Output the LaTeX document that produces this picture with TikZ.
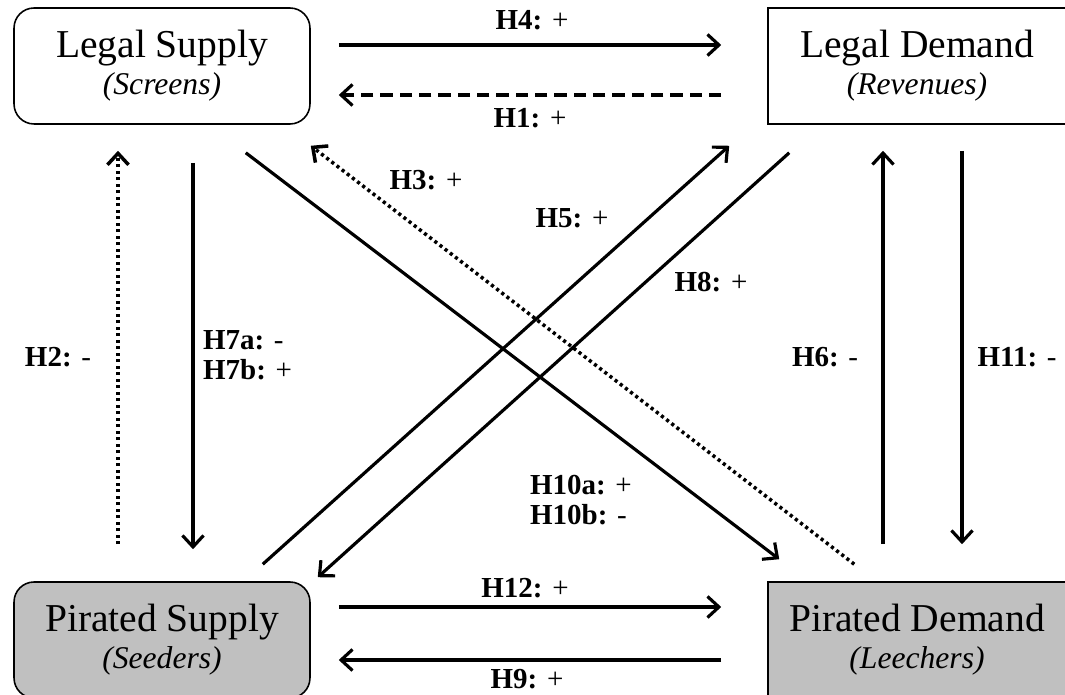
\documentclass[tikz,border=0pt]{standalone}
\usepackage{fontspec}
\setmainfont{Liberation Serif}
\usetikzlibrary{arrows.meta, calc, positioning}
\definecolor{pGrey}{HTML}{C0C0C0}
\newcommand{\subtxt}[1]{{\fontsize{18}{21}\selectfont\itshape(#1)}}

\begin{document}
\begin{tikzpicture}[x=0.02cm, y=-0.02cm,
  boxnode/.style={draw=black, line width=0.9pt, fill=#1, minimum width=5.96cm, minimum height=2.32cm,
                  align=center, inner sep=0pt, font=\fontsize{22.5}{21}\selectfont},
  boxnode/.default=white,
  rbox/.style={boxnode=#1, minimum width=5.92cm, rounded corners=0.4cm},
  rbox/.default=white,
  arr/.style={-{Straight Barb[length=6.5pt, width=12pt]}, line width=1.8pt},
  dots/.style={line width=2pt, dash pattern=on 1.8pt off 1.9pt},
  hlab/.style={font=\fontsize{16.5}{17}\selectfont, align=left, inner sep=1pt}]
  \useasboundingbox (0,0) rectangle (1065,695);
  \clip (0,0) rectangle (1065,695);
  \node[rbox] (lsup) at (162,66) {Legal Supply\\\subtxt{Screens}};
  \node[boxnode] (ldem) at (917,66) {Legal Demand\\\subtxt{Revenues}};
  \node[rbox=pGrey] (psup) at (162,640) {Pirated Supply\\\subtxt{Seeders}};
  \node[boxnode=pGrey] (pdem) at (917,640) {Pirated Demand\\\subtxt{Leechers}};
  % horizontal
  \draw[arr] ($(lsup.east)+(28,-21)$) -- ($(ldem.west)+(-46,-21)$);
  \draw[arr, dash pattern=on 7pt off 4pt] ($(ldem.west)+(-46,29)$) -- ($(lsup.east)+(28,29)$);
  \draw[arr] ($(psup.east)+(28,-33)$) -- ($(pdem.west)+(-46,-33)$);
  \draw[arr] ($(pdem.west)+(-46,20)$) -- ($(psup.east)+(28,20)$);
  % vertical
  \draw[arr, dots] ($(psup.north)+(-44,-37)$) -- ($(lsup.south)+(-44,26)$);
  \draw[arr] ($(lsup.south)+(31,38)$) -- ($(psup.north)+(31,-32)$);
  \draw[arr] ($(pdem.north)+(-34,-37)$) -- ($(ldem.south)+(-34,26)$);
  \draw[arr] ($(ldem.south)+(45,26)$) -- ($(pdem.north)+(45,-37)$);
  % diagonal
  \draw[arr] ($(lsup.south east)+(-65,28)$) -- ($(pdem.north west)+(12,-22)$);
  \draw[arr, dots] ($(pdem.north west)+(87,-17)$) -- ($(lsup.south east)+(0,21)$);
  \draw[arr] ($(psup.north east)+(-48,-17)$) -- ($(ldem.south west)+(-38,21)$);
  \draw[arr] ($(ldem.south west)+(22,28)$) -- ($(psup.north east)+(7,-4)$);
  % labels
  \node[hlab] (h4) at (532,20) {\textbf{H4:} +};
  \node[hlab] (h1) at (530,118) {\textbf{H1:} +};
  \node[hlab] (h12) at (525,588) {\textbf{H12:} +};
  \node[hlab] (h9) at (527,679) {\textbf{H9:} +};
  \node[hlab] (h3) at (426,180) {\textbf{H3:} +};
  \node[hlab] (h5) at (572,218) {\textbf{H5:} +};
  \node[hlab] (h8) at (711,282) {\textbf{H8:} +};
  \node[hlab] (h2) at (58,357) {\textbf{H2:} -};
  \node[hlab] (h6) at (825,357) {\textbf{H6:} -};
  \node[hlab] (h11) at (1017,357) {\textbf{H11:} -};
  \node[hlab, anchor=west] (h7) at (201,355) {\textbf{H7a:} -\\\textbf{H7b:} +};
  \node[hlab, anchor=west] (h10) at (528,500) {\textbf{H10a:} +\\\textbf{H10b:} -};
\end{tikzpicture}
\end{document}
